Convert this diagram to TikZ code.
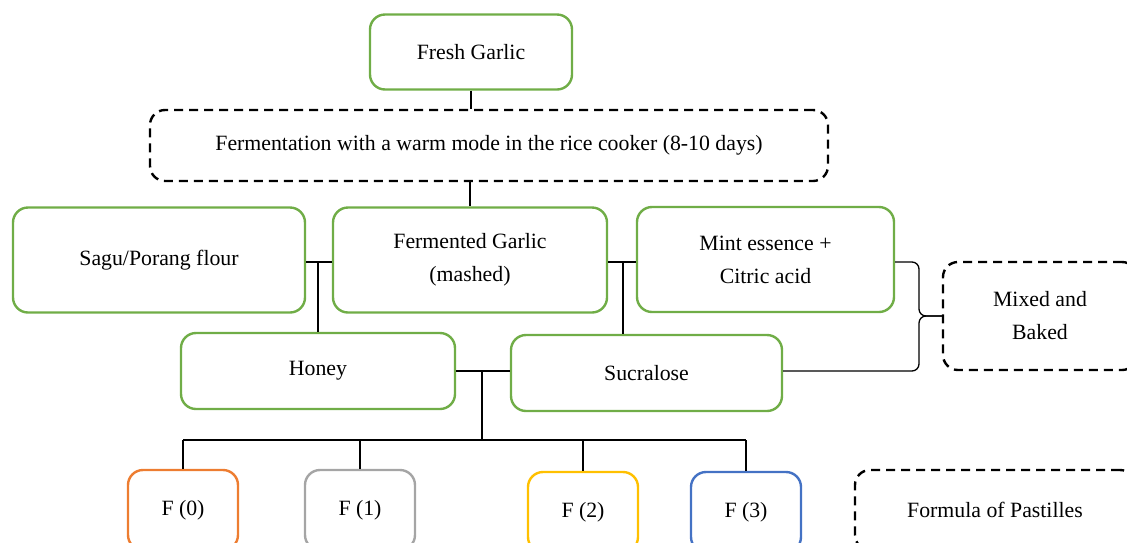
\documentclass[tikz,border=0pt]{standalone}
\usepackage{fontspec}
\setmainfont{Liberation Serif}

\definecolor{stagegreen}{RGB}{112,173,71}
\definecolor{fzero}{RGB}{237,125,49}
\definecolor{fone}{RGB}{165,165,165}
\definecolor{ftwo}{RGB}{255,192,0}
\definecolor{fthree}{RGB}{68,114,196}

\tikzset{
  stage/.style={draw=stagegreen, line width=2.4pt, rounded corners=15pt, align=center, inner sep=0pt},
  note/.style={draw=black, line width=2.4pt, dash pattern=on 9pt off 6pt, rounded corners=15pt, align=center, inner sep=0pt},
  formula/.style={line width=2.4pt, rounded corners=15pt, minimum width=110pt, minimum height=80pt, inner sep=0pt},
  link/.style={line width=1.3pt}
}

\begin{document}
\begin{tikzpicture}[x=1pt, y=-1pt, font=\fontsize{21.8}{33}\selectfont]
      \useasboundingbox (0,0) rectangle (1127,542);
      \clip (0,0) rectangle (1127,542);

      % process
      \node[stage, minimum width=202pt, minimum height=75pt] (fresh) at (471,52) {Fresh Garlic};
      \node[note, minimum width=678pt, minimum height=71pt] (ferment) at (489,145.5) {Fermentation with a warm mode in the rice cooker (8-10 days)};
      \node[stage, minimum width=292pt, minimum height=105pt] (sagu) at (159,260) {Sagu/Porang flour};
      \node[stage, minimum width=274pt, minimum height=105pt] (fgarlic) at (470,260) {Fermented Garlic\\(mashed)};
      \node[stage, minimum width=257pt, minimum height=105pt] (mint) at (765.5,259.5) {Mint essence +\\Citric acid};
      \node[stage, minimum width=274pt, minimum height=76pt] (honey) at (318,371) {Honey};
      \node[stage, minimum width=271pt, minimum height=76pt] (sucra) at (646.5,373) {Sucralose};
      \node[note, minimum width=194pt, minimum height=108pt] (mixed) at (1040,316) {Mixed and\\Baked};

      % formulas
      \node[formula, draw=fzero] (f0) at (183,510) {F (0)};
      \node[formula, draw=fone] (f1) at (360,510) {F (1)};
      \node[formula, draw=ftwo] (f2) at (583,512) {F (2)};
      \node[formula, draw=fthree] (f3) at (746,512) {F (3)};
      \node[note, minimum width=280pt, minimum height=80pt] (legend) at (995,510) {Formula of Pastilles};

      \coordinate (mj) at (623,262);
      \coordinate (hj) at (482,371);
      \coordinate (bar) at (482,440);
      \coordinate (btop) at (919,262);
      \coordinate (bmid) at (919,316);
      \coordinate (bbot) at (919,371);

      \draw[link] (fresh.south) -- (fresh.south |- ferment.north);
      \draw[link] (ferment.south -| fgarlic.north) -- (fgarlic.north);
      \draw[link] (sagu.east |- mj) -- (fgarlic.west |- mj);
      \draw[link] (honey.north) -- (honey.north |- mj);
      \draw[link] (fgarlic.east |- mj) -- (mint.west |- mj);
      \draw[link] (mj) -- (mj |- sucra.north);
      \draw[link] (honey.east) -- (honey.east -| sucra.west);
      \draw[link] (hj) -- (bar);
      \draw[link] (f0.north |- bar) -- (f3.north |- bar);
      \foreach \f in {f0,f1,f2,f3}
        \draw[link] (\f.north) -- (\f.north |- bar);

      % brace to mixed and baked
      \draw[link, rounded corners=7pt] (mint.east |- btop) -- (btop) -- (bmid) -- (mixed.west);
      \draw[link, rounded corners=7pt] (sucra.east |- bbot) -- (bbot) -- (bmid) -- (mixed.west);
\end{tikzpicture}
\end{document}
